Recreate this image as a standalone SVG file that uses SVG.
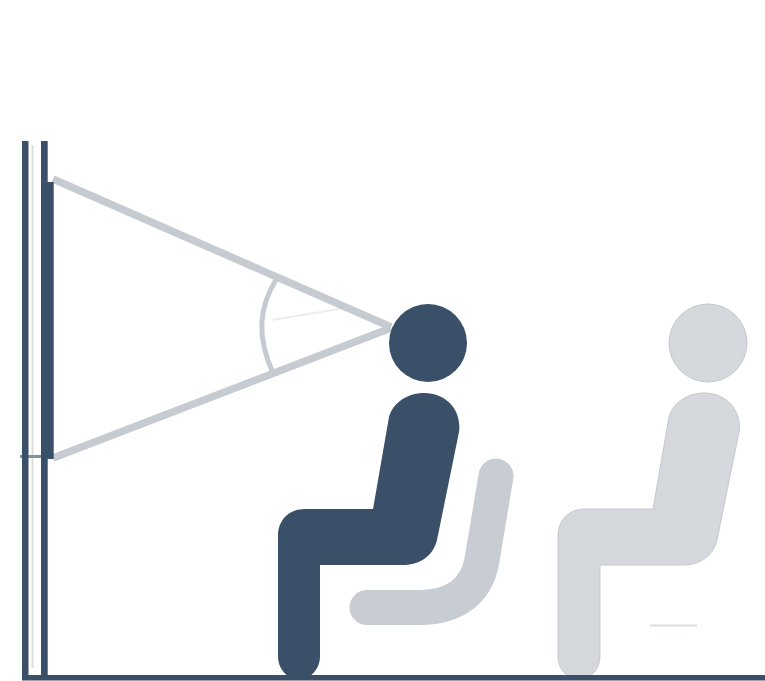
<svg xmlns="http://www.w3.org/2000/svg" width="765" height="681" viewBox="0 0 765 681">
<style>
.dark{fill:#3a4f68}
.light{fill:#d5d9de;stroke:#c4c8cd;stroke-width:1}
.ray{fill:none;stroke:#c6cbd2;stroke-width:7.500}
.arc{fill:none;stroke:#c6cbd2;stroke-width:5}
.seat{fill:none;stroke:#c8cdd4;stroke-width:35;stroke-linecap:round;stroke-linejoin:round}
.faint{fill:none;stroke:#dcdddf;stroke-width:2}
.fainter{fill:none;stroke:#eceded;stroke-width:2}
</style>
<defs>
<path id="body" d="M373 509L389 417C393 403 407 393 424 393C447 393 462 411 459 432L437 540C433 556 420 565 403 565L320 565L320 656C320 668 312 679 299 679C286 679 278 668 278 656L278 536C278 520 289 509 305 509Z"/>
</defs>
<g id="connectors">
<path class="faint" d="M32.500 145V668"/>
<path class="fainter" d="M272 320L345 308"/>
<path class="faint" d="M650 625.500H697"/>
<path d="M20 456.500H42" fill="none" stroke="#8593a3" stroke-width="3"/>
<path class="ray" d="M53 179L391 327"/>
<path class="ray" d="M53 458L391 328"/>
<path class="arc" d="M277 278C258 308 257 338 273 373"/>
</g>
<g id="viewer">
<circle class="dark" cx="428" cy="343" r="39"/>
<use href="#body" class="dark"/>
</g>
<g id="seat">
<path class="seat" d="M367 607.500H420C456 607.500 477 590 482 560L496 476"/>
</g>
<g id="viewer-2">
<circle class="light" cx="708" cy="343" r="39"/>
<use href="#body" class="light" x="280"/>
</g>
<g id="wall">
<rect class="dark" x="22" y="141" width="6.500" height="539"/>
<rect class="dark" x="41" y="141" width="6.700" height="539"/>
<rect class="dark" x="41" y="182" width="12.700" height="277"/>
<rect class="dark" x="22" y="675" width="743" height="5.500"/>
</g>
</svg>
